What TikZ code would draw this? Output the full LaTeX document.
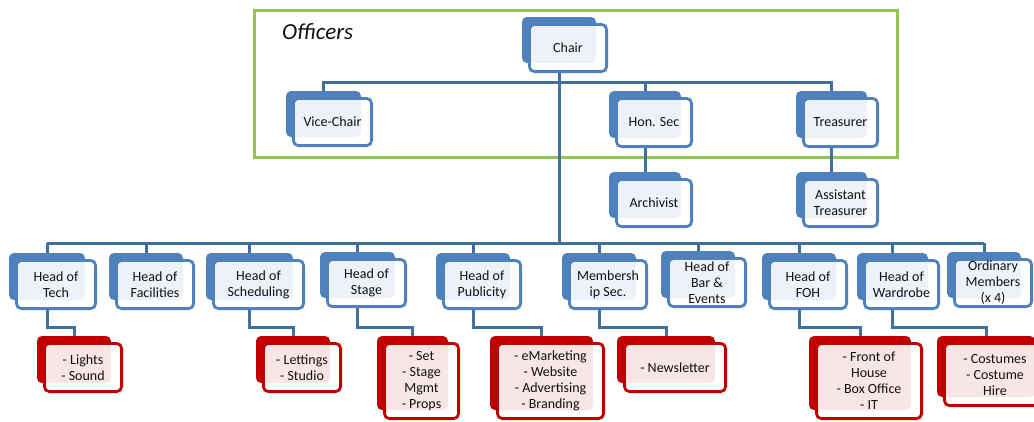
\documentclass[tikz,border=0pt]{standalone}
\usepackage{fontspec}
\setmainfont{Carlito}
\pgfdeclarelayer{bg}
\pgfsetlayers{bg,main}
\definecolor{bbox}{HTML}{4F81BD}
\definecolor{bline}{HTML}{41709F}
\definecolor{rbox}{HTML}{C00000}
\definecolor{gframe}{HTML}{92C555}
\definecolor{txt}{HTML}{111111}
\tikzset{
  backB/.style={fill=bbox, draw=none, rounded corners=5pt, outer sep=0pt, inner sep=0pt},
  backR/.style={fill=rbox, draw=none, rounded corners=5pt, outer sep=0pt, inner sep=0pt},
  frontB/.style={draw=bbox, line width=2.8pt, fill=white, fill opacity=0.9, text opacity=1,
    rounded corners=5pt, inner sep=1pt, align=center, text=txt,
    font=\fontsize{14}{16}\selectfont},
  frontR/.style={frontB, draw=rbox},
  conn/.style={draw=bline, line width=3pt},
  officers/.style={font=\fontsize{23}{26}\selectfont\itshape, text=txt, inner sep=0pt}
}
\newcommand{\stk}[7]{%
  \pgfmathsetmacro\stkbw{#4-6}%
  \pgfmathsetmacro\stkbh{#5-4}%
  \pgfmathsetmacro\stkfw{#4-2.8}%
  \pgfmathsetmacro\stkfh{#5-2.8}%
  \node[back#6, minimum width=\stkbw pt, minimum height=\stkbh pt, anchor=north west] (#1-b) at (#2-6,#3-6) {};
  \node[front#6, minimum width=\stkfw pt, minimum height=\stkfh pt, anchor=center] (#1) at (#2+#4/2,#3+#5/2) {#7};
}
\begin{document}
\begin{tikzpicture}[x=1pt,y=-1pt]
\useasboundingbox (0,0) rectangle (1034,421);
\clip (0,0) rectangle (1034,421);
\coordinate (topbus) at (0,82);
\coordinate (botbus) at (0,243);
\coordinate (subbus) at (0,327);

% officers
\stk{chair}{528}{23}{80}{50}{B}{Chair}
\stk{vc}{292}{97}{81}{50}{B}{Vice-Chair}
\stk{hs}{615}{97}{78}{51}{B}{Hon. Sec}
\stk{tr}{802}{97}{77}{51}{B}{Treasurer}
\stk{ar}{615}{178}{78}{50}{B}{Archivist}
\stk{at}{802}{178}{77}{50}{B}{Assistant\\Treasurer}
% heads
\stk{tech}{15}{259}{82}{51}{B}{Head of\\Tech}
\stk{fac}{115}{259}{80}{51}{B}{Head of\\Facilities}
\stk{sch}{212}{259}{93}{51}{B}{Head of\\Scheduling}
\stk{stg}{326}{258}{81}{50}{B}{Head of\\Stage}
\stk{pub}{442}{259}{80}{51}{B}{Head of\\Publicity}
\stk{mem}{568}{259}{80}{51}{B}{Membersh\\ip Sec.}
\stk{bar}{667}{257}{80}{51}{B}{Head of\\Bar \&\\Events}
\stk{foh}{768}{259}{80}{51}{B}{Head of\\FOH}
\stk{war}{863}{259}{77}{51}{B}{Head of\\Wardrobe}
\stk{ord}{953}{258}{80}{50}{B}{Ordinary\\Members\\(x 4)}
% sub boxes
\stk{lights}{43}{342}{80}{51}{R}{- Lights\\- Sound}
\stk{lett}{262}{342}{80}{51}{R}{- Lettings\\- Studio}
\stk{set}{383}{342}{77}{78}{R}{- Set\\- Stage\\Mgmt\\- Props}
\stk{emk}{496}{342}{109}{78}{R}{- eMarketing\\- Website\\- Advertising\\- Branding}
\stk{news}{623}{342}{104}{51}{R}{- Newsletter}
\stk{fohs}{815}{342}{108}{78}{R}{- Front of\\House\\- Box Office\\- IT}
\stk{wars}{943}{342}{104}{65}{R}{- Costumes\\- Costume\\Hire}

\node[officers, anchor=base west] (offlabel) at (282,39) {Officers};

\begin{pgfonlayer}{bg}
  \fill[white] (0,0) rectangle (1034,421);
  \draw[gframe, line width=3pt] (254,10) rectangle (897,157);
  % top bus
  \draw[conn] (vc-b.north) -- (vc-b.north |- topbus) -- (tr-b.north |- topbus) -- (tr-b.north);
  \draw[conn] (hs-b.north |- topbus) -- (hs-b.north);
  \draw[conn] (chair.south -| chair-b.north) -- (chair-b.north |- botbus);
  \draw[conn] (hs.south -| hs-b.north) -- (ar-b.north);
  \draw[conn] (tr.south -| tr-b.north) -- (at-b.north);
  % bottom bus
  \draw[conn] (tech-b.north |- botbus) -- (ord-b.north |- botbus);
  \foreach \n in {tech,fac,sch,stg,pub,mem,bar,foh,war,ord}
    \draw[conn] (\n-b.north |- botbus) -- (\n-b.north);
  % sub connectors
  \draw[conn] (tech.south -| tech-b.north) |- (lights-b.north |- subbus) -- (lights-b.north);
  \draw[conn] (sch.south -| sch-b.north) |- (lett-b.north |- subbus) -- (lett-b.north);
  \draw[conn] (stg.south -| stg-b.north) |- (set-b.north |- subbus) -- (set-b.north);
  \draw[conn] (pub.south -| pub-b.north) |- (emk-b.north |- subbus) -- (emk-b.north);
  \draw[conn] (mem.south -| mem-b.north) |- (news-b.north |- subbus) -- (news-b.north);
  \draw[conn] (foh.south -| foh-b.north) |- (fohs-b.north |- subbus) -- (fohs-b.north);
  \draw[conn] (war.south -| war-b.north) |- (wars-b.north |- subbus) -- (wars-b.north);
\end{pgfonlayer}
\end{tikzpicture}
\end{document}
